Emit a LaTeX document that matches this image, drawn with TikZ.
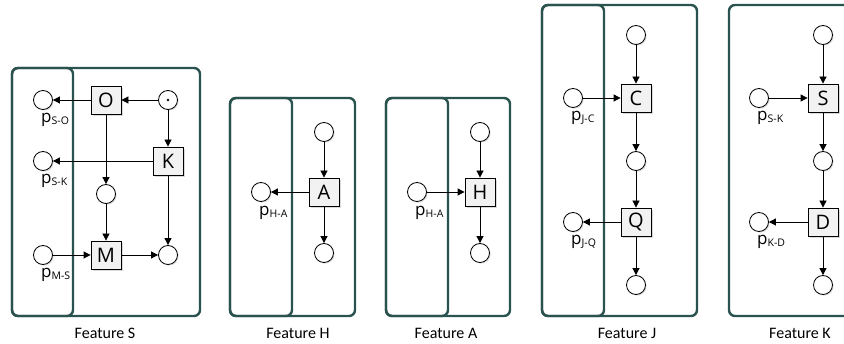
\documentclass[tikz,border=0pt]{standalone}
\usepackage{fontspec}
\setmainfont{Carlito}
\newfontfamily\boxfont{Open Sans}
\usetikzlibrary{arrows.meta,shadows}
\definecolor{frame}{RGB}{42,82,78}
\definecolor{boxfill}{RGB}{242,242,242}
\tikzset{
  pl/.style={circle,draw=black,fill=white,minimum size=19pt,inner sep=0pt,line width=0.8pt,
    drop shadow={shadow xshift=1.2pt,shadow yshift=-1.2pt,opacity=0.25}},
  tr/.style={rectangle,draw=black,fill=boxfill,minimum width=30pt,minimum height=28pt,inner sep=0pt,line width=0.8pt,
    font=\boxfont\fontsize{20}{20}\selectfont,
    drop shadow={shadow xshift=2pt,shadow yshift=-2pt,opacity=0.3}},
  arc/.style={-{Triangle[length=7pt,width=7pt]},line width=0.8pt,black},
  feat/.style={draw=frame,line width=2.4pt,rounded corners=6pt},
  plab/.style={anchor=west,inner sep=0pt,font=\boxfont\fontsize{17}{17}\selectfont},
  ftitle/.style={font=\fontsize{16}{16}\selectfont},
}
\newcommand{\plabel}[2]{p\raisebox{-0.2ex}{\fontsize{10.5}{10.5}\selectfont #2}}
\begin{document}
\begin{tikzpicture}[x=1pt,y=-1pt]
\useasboundingbox (0,0) rectangle (844,344);
\clip (0,0) rectangle (844,344);
% frames
\draw[feat] (12,68) rectangle (200,316);
\draw[feat] (12,68) rectangle (73,316);
\draw[feat] (230,98) rectangle (355,316);
\draw[feat] (230,98) rectangle (292,316);
\draw[feat] (386,98) rectangle (510,316);
\draw[feat] (386,98) rectangle (448,316);
\draw[feat] (542,5) rectangle (697,316);
\draw[feat] (542,5) rectangle (604,316);
\draw[feat] (729,5) rectangle (870,316);
% titles
\node[ftitle] (tS) at (105,333) {Feature S};
\node[ftitle] (tH) at (298,333) {Feature H};
\node[ftitle] (tA) at (446,333) {Feature A};
\node[ftitle] (tJ) at (627,333) {Feature J};
\node[ftitle] (tK) at (800,333) {Feature K};
% Feature S
\node[pl] (sO) at (43,100) {};
\node[pl] (sK) at (43,161) {};
\node[pl] (sM) at (43,255) {};
\node[tr] (O) at (106,100) {O};
\node[pl] (sdot) at (168,100) {};
\fill (sdot.center) circle (1.3pt);
\node[tr] (K) at (168,161) {K};
\node[pl] (smid) at (106,194) {};
\node[tr] (M) at (106,255) {M};
\node[pl] (sout) at (168,255) {};
\node[plab] (lsO) at (41,120) {\plabel{}{S-O}};
\node[plab] (lsK) at (41,181) {\plabel{}{S-K}};
\node[plab] (lsM) at (41,275) {\plabel{}{M-S}};
\draw[arc] (sdot) -- (O);
\draw[arc] (O) -- (sO);
\draw[arc] (sdot) -- (K);
\draw[arc] (K) -- (sK);
\draw[arc] (O) -- (smid);
\draw[arc] (smid) -- (M);
\draw[arc] (sM) -- (M);
\draw[arc] (M) -- (sout);
\draw[arc] (K) -- (sout);
% Feature H
\node[pl] (hT) at (324,132) {};
\node[tr] (A) at (324,192) {A};
\node[pl] (hL) at (261,192) {};
\node[pl] (hB) at (324,253) {};
\node[plab] (lhA) at (259,213) {\plabel{}{H-A}};
\draw[arc] (hT) -- (A);
\draw[arc] (A) -- (hL);
\draw[arc] (A) -- (hB);
% Feature A
\node[pl] (aT) at (480,132) {};
\node[tr] (H) at (480,192) {H};
\node[pl] (aL) at (417,192) {};
\node[pl] (aB) at (480,253) {};
\node[plab] (laH) at (415,213) {\plabel{}{H-A}};
\draw[arc] (aT) -- (H);
\draw[arc] (aL) -- (H);
\draw[arc] (H) -- (aB);
% Feature J
\node[pl] (jT) at (636,35) {};
\node[tr] (C) at (636,98) {C};
\node[pl] (jL) at (573,98) {};
\node[pl] (jM) at (636,161) {};
\node[tr] (Q) at (636,222) {Q};
\node[pl] (jQ) at (573,222) {};
\node[pl] (jB) at (636,285) {};
\node[plab] (ljC) at (571,118) {\plabel{}{J-C}};
\node[plab] (ljQ) at (571,242) {\plabel{}{J-Q}};
\draw[arc] (jT) -- (C);
\draw[arc] (jL) -- (C);
\draw[arc] (C) -- (jM);
\draw[arc] (jM) -- (Q);
\draw[arc] (Q) -- (jQ);
\draw[arc] (Q) -- (jB);
% Feature K
\node[pl] (kT) at (823,35) {};
\node[tr] (S) at (823,98) {S};
\node[pl] (kL) at (759,98) {};
\node[pl] (kM) at (823,161) {};
\node[tr] (D) at (823,222) {D};
\node[pl] (kD) at (759,222) {};
\node[pl] (kB) at (823,285) {};
\node[plab] (lkS) at (757,118) {\plabel{}{S-K}};
\node[plab] (lkD) at (757,242) {\plabel{}{K-D}};
\draw[arc] (kT) -- (S);
\draw[arc] (kL) -- (S);
\draw[arc] (S) -- (kM);
\draw[arc] (kM) -- (D);
\draw[arc] (D) -- (kD);
\draw[arc] (D) -- (kB);
\end{tikzpicture}
\end{document}
